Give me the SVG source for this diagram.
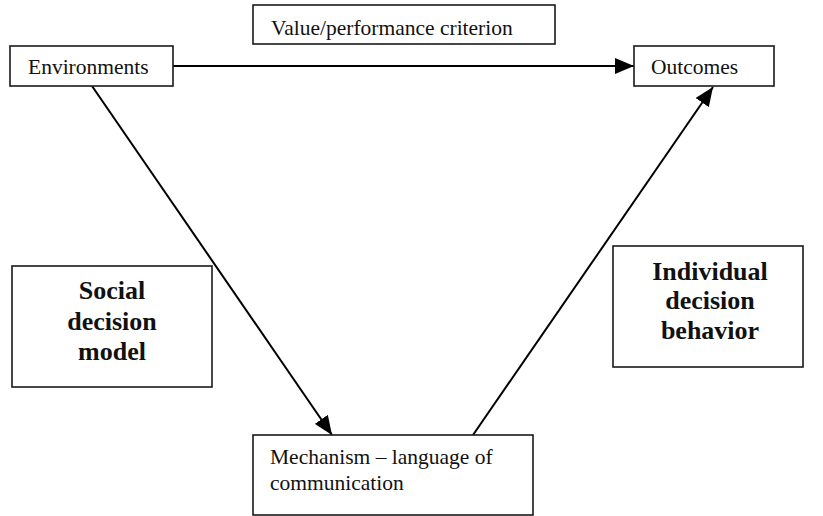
<svg xmlns="http://www.w3.org/2000/svg" width="823" height="516" viewBox="0 0 823 516">
  <style>
    .box { fill: #ffffff; stroke: #1a1a1a; stroke-width: 1.6; }
    .lbl { font-family: "Liberation Serif", "Times New Roman", serif; font-size: 21.5px; fill: #111111; }
    .big { font-family: "Liberation Serif", "Times New Roman", serif; font-size: 26px; font-weight: bold; fill: #111111; text-anchor: middle; }
    .conn { stroke: #000000; stroke-width: 2; fill: none; marker-end: url(#head); }
  </style>
  <defs>
    <marker id="head" markerUnits="userSpaceOnUse" markerWidth="20" markerHeight="16" refX="19" refY="8" orient="auto">
      <path d="M0,0 L19,8 L0,16 Z" fill="#000000"/>
    </marker>
  </defs>

  <rect width="823" height="516" fill="#ffffff"/>

  <g id="connectors">
    <line class="conn" x1="173" y1="66" x2="634" y2="66"/>
    <line class="conn" x1="92" y1="86" x2="332" y2="435"/>
    <line class="conn" x1="473" y1="435" x2="713" y2="87"/>
  </g>

  <g id="value-criterion">
    <rect class="box" x="253" y="5" width="302" height="39"/>
    <text class="lbl" x="271" y="35">Value/performance criterion</text>
  </g>

  <g id="environments">
    <rect class="box" x="10" y="46" width="163" height="40"/>
    <text class="lbl" x="28" y="74">Environments</text>
  </g>

  <g id="outcomes">
    <rect class="box" x="634" y="46" width="140" height="40"/>
    <text class="lbl" x="651" y="74">Outcomes</text>
  </g>

  <g id="social-decision-model">
    <rect class="box" x="12" y="266" width="200" height="121"/>
    <text class="big" x="112" y="299">Social</text>
    <text class="big" x="112" y="330">decision</text>
    <text class="big" x="112" y="360">model</text>
  </g>

  <g id="individual-decision-behavior">
    <rect class="box" x="613" y="246" width="190" height="121"/>
    <text class="big" x="710" y="280">Individual</text>
    <text class="big" x="710" y="309">decision</text>
    <text class="big" x="710" y="339">behavior</text>
  </g>

  <g id="mechanism">
    <rect class="box" x="253" y="435" width="280" height="80"/>
    <text class="lbl" x="270" y="464">Mechanism – language of</text>
    <text class="lbl" x="270" y="490">communication</text>
  </g>
</svg>
